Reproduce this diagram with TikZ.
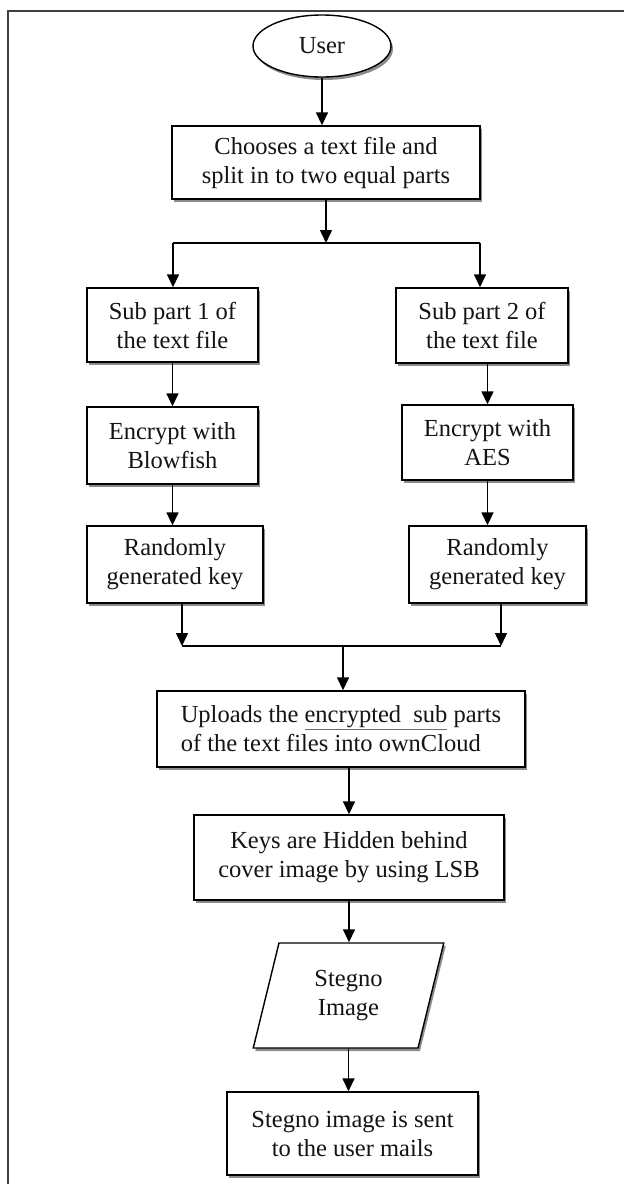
\documentclass[tikz,border=0pt]{standalone}
\usepackage{fontspec}
\setmainfont{Liberation Serif}
\usetikzlibrary{shapes.geometric,arrows.meta,shadows}
\definecolor{ulblue}{RGB}{60,110,230}
\definecolor{txt}{RGB}{20,20,20}
\newsavebox\ulbox
\newcommand\blueul[1]{\sbox\ulbox{#1}\rlap{\textcolor{ulblue}{\rule[-0.3em]{\wd\ulbox}{1.2pt}}}\usebox\ulbox}
\tikzset{
  shad/.style={general shadow={shadow xshift=2pt,shadow yshift=-3pt,fill=black!45}},
  box/.style={draw=black,line width=1.4pt,fill=white,align=center,inner sep=0pt,
    text=txt,font=\fontsize{24.5}{29}\selectfont,shad},
  arr/.style={line width=1.5pt,-{Triangle[length=13pt,width=12pt]}},
  ln/.style={line width=1.5pt},
  frame/.style={line width=2pt,draw=black!75}
}
\begin{document}
\begin{tikzpicture}[x=1pt,y=-1pt]
\useasboundingbox (0,0) rectangle (624,1184);
\draw[frame] (8,1184) -- (8,11) -- (624,11);

\node[box,ellipse,minimum width=138pt,minimum height=62pt] (u) at (322,46) {User};
\node[box,minimum width=308pt,minimum height=73pt] (b1) at (326,162.5) {Chooses a text file and\\split in to two equal parts};
\node[box,minimum width=171pt,minimum height=74pt] (s1) at (172.5,325) {Sub part 1 of\\the text file};
\node[box,minimum width=172pt,minimum height=75pt] (s2) at (482,325.5) {Sub part 2 of\\the text file};
\node[box,minimum width=171pt,minimum height=77pt] (e1) at (172.5,445.5) {Encrypt with\\Blowfish};
\node[box,minimum width=171pt,minimum height=75pt] (e2) at (487.5,442.5) {Encrypt with\\AES};
\node[box,minimum width=176pt,minimum height=77pt] (r1) at (175,564.5) {Randomly\\generated key};
\node[box,minimum width=177pt,minimum height=77pt] (r2) at (497.5,564.5) {Randomly\\generated key};
\node[box,align=left,minimum width=368pt,minimum height=76pt] (up) at (341,729) {Uploads the \blueul{encrypted\ \ sub} parts\\of the text files into ownCloud};
\node[box,minimum width=310pt,minimum height=85pt] (k) at (349,857.5) {Keys are Hidden behind\\cover image by using LSB};
\node[box,trapezium,trapezium left angle=76,trapezium right angle=104,trapezium stretches=true,
  minimum width=191pt,minimum height=105pt] (pg) at (348.5,995.5) {Stegno\\Image};
\node[box,minimum width=251pt,minimum height=83pt] (m) at (352.5,1133.5) {Stegno image is sent\\to the user mails};

\coordinate (br) at (326,243);
\coordinate (brL) at (173,243);
\coordinate (brR) at (480,243);
\coordinate (mg) at (343,646);
\coordinate (mgL) at (182,646);
\coordinate (mgR) at (501,646);

\draw[arr] (u.south) -- (u.south |- b1.north);
\draw[arr] (b1.south) -- (b1.south |- br);
\draw[ln] (brL) -- (brR);
\draw[arr] (brL) -- (brL |- s1.north);
\draw[arr] (brR) -- (brR |- s2.north);
\draw[arr] (s1.south) -- (e1.north);
\draw[arr] (s2.south -| e2.north) -- (e2.north);
\draw[arr] (e1.south) -- (e1.south |- r1.north);
\draw[arr] (e2.south) -- (e2.south |- r2.north);
\draw[arr] (mgL |- r1.south) -- (mgL);
\draw[arr] (mgR |- r2.south) -- (mgR);
\draw[ln] (mgL) -- (mgR);
\draw[arr] (mg) -- (mg |- up.north);
\draw[arr] (up.south -| k.north) -- (k.north);
\draw[arr] (k.south) -- (k.south |- pg.north);
\draw[arr] (pg.south) -- (pg.south |- m.north);
\end{tikzpicture}
\end{document}
